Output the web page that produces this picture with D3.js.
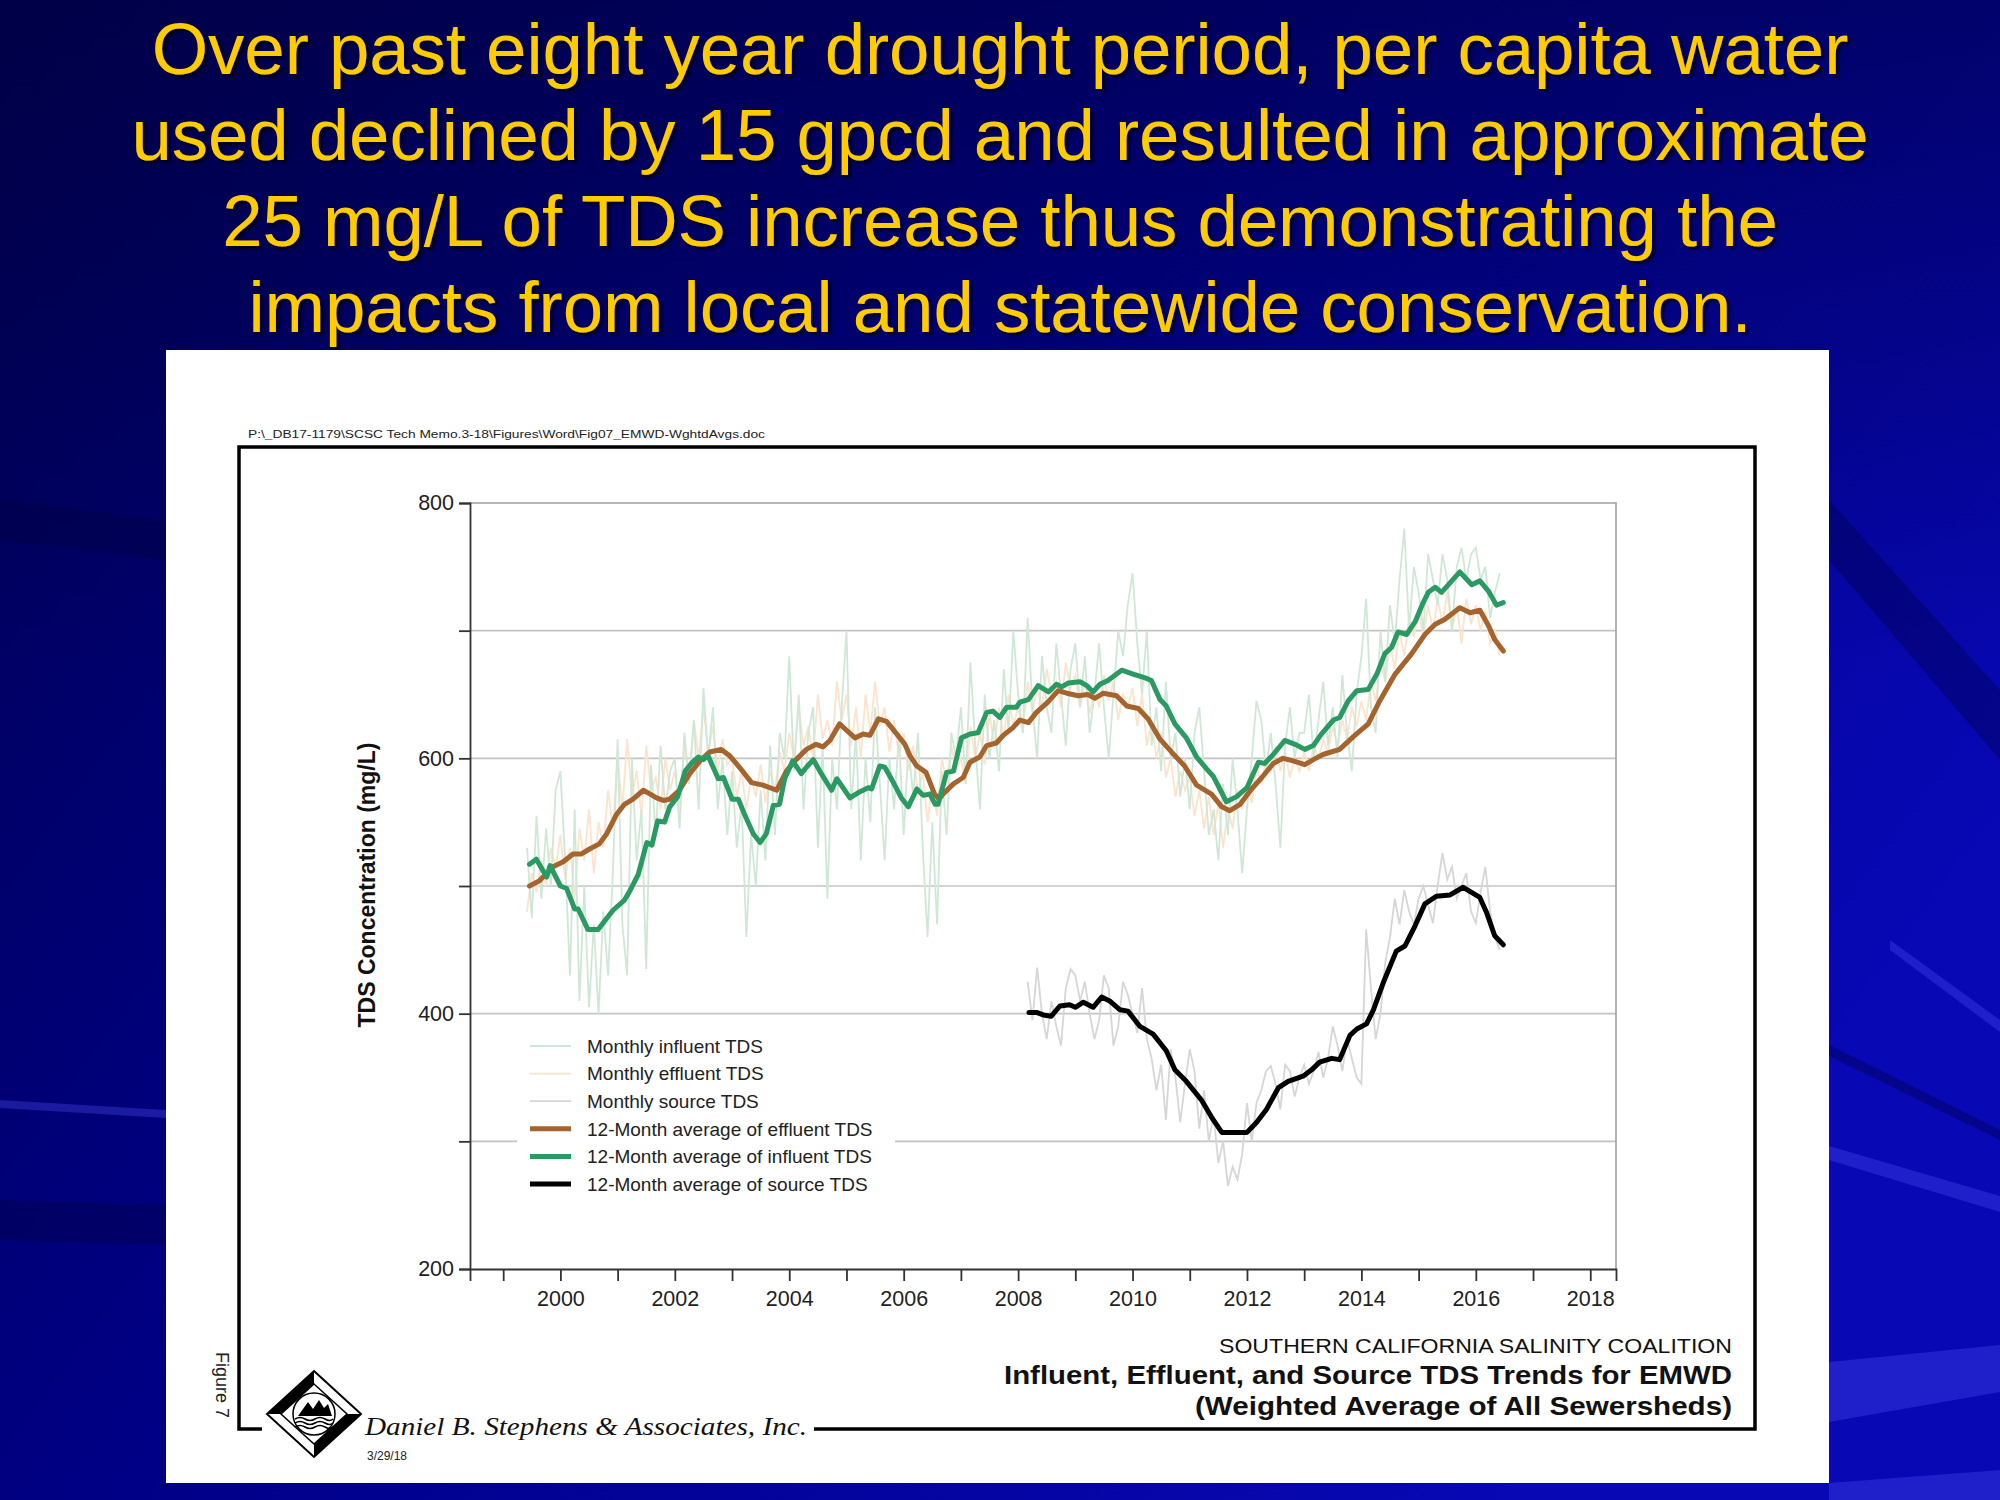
<!DOCTYPE html>
<meta charset="utf-8">
<style>
body { margin: 0; background: #00006a; }
svg { display: block; font-family: "Liberation Sans", Arial, sans-serif; }
.title { fill: #ffcc00; font-size: 72.5px; text-anchor: middle; }
.grid { stroke: #c4c4c4; stroke-width: 1.6; }
.border { stroke: #a0a0a0; stroke-width: 1.6; fill: none; }
.axis-line { stroke: #333; stroke-width: 1.8; }
.tick-label { font-size: 21.5px; fill: #222; }
.legend-label { font-size: 19px; fill: #222; }
.caption { fill: #111; text-anchor: end; }
</style>
<body>
<script src="https://d3js.org/d3.v7.min.js"></script>
<script>

var width = 2000, height = 1500;

// ---- data ----
var titleLines = [
  "Over past eight year drought period, per capita water",
  "used declined by 15 gpcd and resulted in approximate",
  "25 mg/L of TDS increase thus demonstrating the",
  "impacts from local and statewide conservation."
];

var yearTicks = d3.range(1999, 2019);
var yearLabels = d3.range(2000, 2019, 2);
var valueTicks = d3.range(200, 801, 100);
var valueLabels = [200, 400, 600, 800];
var gridValues = [300, 400, 500, 600, 700];

// monthly series, first value is June 1999
var monthlyStart = 1999 + 5 / 12;
var monthlyInfluent = [
  530, 475, 555, 490, 545, 500, 575,
  590, 520, 430, 560, 410, 500, 405, 470, 400, 480, 430, 510,
  615, 470, 430, 600, 520, 560, 435, 595, 540, 610, 560, 590,
  600, 545, 620, 580, 630, 560, 655, 600, 640, 560, 600, 540,
  590, 530, 565, 460, 540, 500, 575, 520, 610, 540, 620, 600,
  680, 590, 650, 560, 620, 640, 530, 610, 490, 600, 560, 640,
  700, 560, 620, 520, 600, 550, 640, 580, 520, 600, 560, 620,
  540, 610, 570, 620, 530, 460, 550, 470, 590, 540, 620, 600,
  640, 580, 675, 610, 560, 650, 600, 630, 590, 670, 620, 700,
  650, 620, 710, 640, 600, 680, 640, 620, 690, 650, 610, 670,
  690, 640, 680, 620, 650, 690, 640, 600, 650, 700, 680, 720,
  745, 690, 650, 700, 610, 640, 590, 660, 600, 620, 570, 600,
  560, 620, 640, 590, 540, 560, 520, 580, 540, 600, 560, 510,
  560, 600, 645, 630, 590, 620, 580, 530, 610, 640, 600, 620,
  620, 650, 600, 630, 660, 610, 640, 600, 665, 620, 590, 650,
  680, 725, 640, 620, 700, 660, 720, 690, 740, 780, 700, 750,
  730, 700, 760, 740, 720, 760, 740, 700, 750, 765, 740, 760,
  765, 740, 750, 710, 730, 745
];
var monthlyEffluent = [
  480, 510, 495, 520, 500, 530, 515,
  540, 505, 530, 490, 545, 520, 560, 510, 550, 530, 575, 545,
  600, 560, 615, 570, 590, 555, 610, 575, 585, 560, 600, 575,
  590, 560, 610, 585, 630, 600, 640, 605, 625, 590, 615, 595,
  600, 570, 590, 560, 585, 570, 595, 565, 590, 575, 605, 590,
  620, 600, 640, 610, 625, 600, 650, 615, 630, 610, 660, 630,
  650, 610, 640, 600, 650, 620, 660, 625, 640, 605, 630, 600,
  620, 590, 610, 570, 590, 550, 580, 555, 600, 580, 610, 590,
  600, 580, 625, 600, 620, 595, 635, 610, 640, 615, 650, 625,
  640, 620, 660, 635, 655, 640, 670, 650, 660, 640, 675, 655,
  665, 640, 660, 635, 655, 640, 665, 645, 660, 630, 650, 640,
  655, 625, 650, 610, 630, 600, 620, 585, 600, 570, 590, 575,
  585, 555, 575, 545, 570, 540, 565, 530, 560, 545, 575, 560,
  580, 565, 595, 580, 600, 590, 610, 590, 605, 585, 600, 590,
  605, 590, 610, 600, 615, 605, 625, 610, 630, 615, 640, 625,
  645, 630, 660, 645, 675, 660, 690, 670, 700, 680, 710, 695,
  715, 695, 720, 700, 725, 705, 730, 700, 720, 690, 725, 705,
  720, 700, 715, 690, 700, 680
];
// monthly source, first value is March 2008
var sourceStart = 2008 + 2 / 12;
var monthlySource = [
  425, 395, 436, 400, 380, 410, 390, 375, 420, 435,
  430, 410, 425, 400, 380, 395, 430, 420, 375, 390, 425, 415,
  400, 385, 420, 380, 365, 340, 360, 317, 372, 350, 315, 345,
  372, 355, 310, 340, 300, 320, 283, 300, 265, 280, 270, 290,
  330, 300, 330, 340, 355, 359, 345, 325, 360, 355, 335, 350,
  360, 345, 355, 370, 350, 365, 390, 375, 355, 380, 365, 350,
  345, 466, 420, 380, 400, 440, 460, 490, 470, 497, 480, 470,
  490, 500, 485, 471, 500, 526, 505, 515, 490, 500, 510, 480,
  471, 495, 515, 480, 460, 450
];

// 12-month running averages, [decimal year, mg/L]
var avgEffluent = [
  [1999.46, 500], [1999.63, 504], [1999.87, 515], [2000.05, 519], [2000.22, 525], [2000.36, 525],
  [2000.51, 529], [2000.68, 533], [2000.81, 541], [2000.98, 556], [2001.12, 564], [2001.27, 568],
  [2001.45, 575], [2001.57, 572], [2001.68, 569], [2001.8, 567], [2001.91, 568], [2002.08, 575],
  [2002.26, 588], [2002.44, 598], [2002.61, 605], [2002.81, 607], [2002.96, 602], [2003.13, 593],
  [2003.34, 581], [2003.54, 579], [2003.78, 575], [2003.95, 590], [2004.12, 599], [2004.3, 607],
  [2004.47, 611], [2004.59, 609], [2004.71, 614], [2004.88, 627], [2005.0, 622], [2005.15, 616],
  [2005.29, 619], [2005.41, 618], [2005.56, 631], [2005.7, 629], [2005.88, 619], [2006.02, 611],
  [2006.11, 602], [2006.23, 594], [2006.39, 589], [2006.54, 572], [2006.62, 568], [2006.69, 572],
  [2006.87, 580], [2007.04, 585], [2007.16, 597], [2007.33, 601], [2007.45, 610], [2007.62, 612],
  [2007.74, 618], [2007.91, 624], [2008.03, 630], [2008.18, 628], [2008.32, 636], [2008.52, 644],
  [2008.7, 653], [2008.85, 651], [2009.05, 649], [2009.22, 650], [2009.34, 647], [2009.49, 651],
  [2009.72, 649], [2009.9, 641], [2010.1, 639], [2010.27, 631], [2010.48, 615], [2010.68, 605],
  [2010.91, 594], [2011.12, 579], [2011.38, 572], [2011.56, 562], [2011.7, 559], [2011.88, 564],
  [2012.08, 576], [2012.26, 585], [2012.46, 596], [2012.63, 600], [2012.81, 598], [2013.01, 595],
  [2013.16, 599], [2013.33, 603], [2013.62, 607], [2013.86, 617], [2014.12, 627], [2014.32, 645],
  [2014.59, 666], [2014.88, 682], [2015.11, 697], [2015.29, 705], [2015.46, 709], [2015.72, 718],
  [2015.9, 714], [2016.07, 716], [2016.22, 704], [2016.33, 693], [2016.48, 684]
];
var avgInfluent = [
  [1999.46, 517], [1999.58, 521], [1999.76, 507], [1999.82, 516], [2000.0, 500], [2000.11, 498],
  [2000.25, 482], [2000.31, 482], [2000.48, 466], [2000.66, 466], [2000.78, 473], [2000.92, 481],
  [2001.12, 489], [2001.2, 495], [2001.36, 509], [2001.51, 534], [2001.6, 532], [2001.7, 551],
  [2001.82, 550], [2001.91, 562], [2002.05, 570], [2002.18, 590], [2002.29, 596], [2002.41, 601],
  [2002.5, 599], [2002.58, 602], [2002.67, 593], [2002.76, 584], [2002.85, 585], [2003.0, 568],
  [2003.11, 568], [2003.22, 556], [2003.37, 541], [2003.49, 534], [2003.6, 541], [2003.72, 563],
  [2003.83, 564], [2003.92, 584], [2004.06, 598], [2004.21, 588], [2004.3, 593], [2004.42, 599],
  [2004.56, 588], [2004.74, 575], [2004.83, 584], [2004.94, 577], [2005.06, 569], [2005.2, 573],
  [2005.38, 577], [2005.44, 576], [2005.58, 594], [2005.67, 593], [2005.82, 581], [2005.96, 569],
  [2006.08, 562], [2006.23, 576], [2006.34, 571], [2006.46, 572], [2006.55, 564], [2006.6, 564],
  [2006.75, 589], [2006.87, 590], [2007.01, 616], [2007.16, 619], [2007.3, 620], [2007.45, 636],
  [2007.56, 637], [2007.68, 632], [2007.8, 640], [2007.97, 640], [2008.03, 644], [2008.18, 646],
  [2008.35, 657], [2008.53, 652], [2008.67, 658], [2008.76, 656], [2008.88, 659], [2009.08, 660],
  [2009.2, 657], [2009.31, 652], [2009.43, 658], [2009.57, 661], [2009.81, 669], [2010.01, 666],
  [2010.22, 663], [2010.33, 661], [2010.48, 646], [2010.59, 641], [2010.74, 627], [2010.94, 616],
  [2011.12, 601], [2011.29, 592], [2011.41, 586], [2011.64, 566], [2011.82, 570], [2012.0, 577],
  [2012.2, 597], [2012.31, 596], [2012.46, 603], [2012.66, 614], [2012.84, 611], [2013.01, 607],
  [2013.16, 610], [2013.3, 619], [2013.51, 630], [2013.62, 632], [2013.77, 645], [2013.92, 653],
  [2014.12, 654], [2014.27, 666], [2014.41, 682], [2014.53, 687], [2014.64, 699], [2014.79, 697],
  [2014.94, 707], [2015.08, 722], [2015.17, 730], [2015.29, 734], [2015.4, 730], [2015.58, 739],
  [2015.72, 746], [2015.93, 736], [2016.07, 739], [2016.22, 731], [2016.36, 720], [2016.48, 722]
];
var avgSource = [
  [2008.19, 401], [2008.32, 401], [2008.44, 399], [2008.58, 398], [2008.73, 406], [2008.9, 407],
  [2009.0, 405], [2009.14, 409], [2009.31, 405], [2009.46, 413], [2009.6, 410], [2009.78, 403],
  [2009.92, 402], [2010.13, 390], [2010.36, 384], [2010.59, 371], [2010.74, 356], [2010.94, 347],
  [2011.21, 332], [2011.38, 319], [2011.56, 307], [2011.76, 307], [2012.0, 307], [2012.17, 315],
  [2012.34, 325], [2012.55, 342], [2012.72, 347], [2012.98, 351], [2013.13, 356], [2013.27, 362],
  [2013.48, 365], [2013.62, 364], [2013.8, 383], [2013.92, 388], [2014.09, 392], [2014.21, 403],
  [2014.38, 424], [2014.61, 449], [2014.76, 453], [2014.94, 469], [2015.11, 486], [2015.31, 492],
  [2015.55, 493], [2015.78, 499], [2016.07, 491], [2016.19, 479], [2016.33, 461], [2016.48, 454]
];

var legendLabels = [
  "Monthly influent TDS",
  "Monthly effluent TDS",
  "Monthly source TDS",
  "12-Month average of effluent TDS",
  "12-Month average of influent TDS",
  "12-Month average of source TDS"
];

// ---- styles ----
var colors = {
  influentMonthly: "#cfe8d6",
  effluentMonthly: "#fbe3cc",
  sourceMonthly: "#d6d6d6",
  effluentAvg: "#a5632e",
  influentAvg: "#2a9a62",
  sourceAvg: "#000"
};
var legendStyles = [
  {color: colors.influentMonthly, w: 1.8},
  {color: colors.effluentMonthly, w: 1.8},
  {color: colors.sourceMonthly, w: 1.8},
  {color: colors.effluentAvg, w: 5},
  {color: colors.influentAvg, w: 5},
  {color: colors.sourceAvg, w: 5}
];

var plot = {left: 470, right: 1616, top: 503, bottom: 1269};

var x = d3.scaleLinear().domain([1998.42, 2018.45]).range([plot.left, plot.right]);
var y = d3.scaleLinear().domain([200, 800]).range([plot.bottom, plot.top]);

var svg = d3.select("body").append("svg")
  .attr("width", width)
  .attr("height", height);

// ---- slide background ----
var defs = svg.append("defs");
var bg = defs.append("linearGradient").attr("id", "bg")
  .attr("x1", 0).attr("y1", 0).attr("x2", 1).attr("y2", 0.55);
bg.append("stop").attr("offset", "0%").attr("stop-color", "#000050");
bg.append("stop").attr("offset", "50%").attr("stop-color", "#00008a");
bg.append("stop").attr("offset", "100%").attr("stop-color", "#0808b4");
var topShade = defs.append("linearGradient").attr("id", "topShade")
  .attr("x1", 0).attr("y1", 0).attr("x2", 0).attr("y2", 1);
topShade.append("stop").attr("offset", "0%").attr("stop-color", "#000040").attr("stop-opacity", 0.55);
topShade.append("stop").attr("offset", "45%").attr("stop-color", "#000040").attr("stop-opacity", 0);
var shadow = defs.append("filter").attr("id", "shadow");
shadow.append("feDropShadow").attr("dx", 3).attr("dy", 3).attr("stdDeviation", 1.5)
  .attr("flood-color", "#000").attr("flood-opacity", 0.7);

svg.append("rect").attr("width", width).attr("height", height).attr("fill", "url(#bg)");
svg.append("rect").attr("width", width).attr("height", height).attr("fill", "url(#topShade)");

// faint streaks of the slide theme
var lightStreaks = [
  "M1890,940 L2000,1020 L2000,1032 L1890,950 Z",
  "M1829,1146 L2000,1196 L2000,1212 L1829,1160 Z",
  "M1829,1362 L2000,1345 L2000,1392 L1829,1422 Z",
  "M1829,1483 L2000,1470 L2000,1500 L1829,1500 Z",
  "M0,1100 L166,1110 L166,1118 L0,1108 Z"
];
var darkStreaks = [
  "M1829,500 L2000,690 L2000,760 L1829,560 Z",
  "M1829,1045 L2000,1130 L2000,1140 L1829,1056 Z",
  "M0,1200 L166,1205 L166,1245 L0,1240 Z",
  "M0,500 L166,520 L166,560 L0,540 Z"
];
svg.selectAll(".streak-light").data(lightStreaks).enter().append("path")
  .attr("d", function(d) { return d; })
  .attr("fill", "#5a5aff")
  .attr("opacity", 0.3);
svg.selectAll(".streak-dark").data(darkStreaks).enter().append("path")
  .attr("d", function(d) { return d; })
  .attr("fill", "#000040")
  .attr("opacity", 0.35);

// ---- title ----
svg.selectAll(".title").data(titleLines).enter().append("text")
  .attr("class", "title")
  .attr("x", 1000)
  .attr("y", function(d, i) { return 74 + i * 86; })
  .attr("filter", "url(#shadow)")
  .text(function(d) { return d; });

// ---- white figure panel and frame ----
svg.append("rect").attr("x", 166).attr("y", 350).attr("width", 1663).attr("height", 1133).attr("fill", "#fff");

svg.append("text").attr("x", 248).attr("y", 438)
  .attr("font-size", 11).attr("fill", "#222")
  .attr("textLength", 517).attr("lengthAdjust", "spacingAndGlyphs")
  .text("P:\\_DB17-1179\\SCSC Tech Memo.3-18\\Figures\\Word\\Fig07_EMWD-WghtdAvgs.doc");

var frame = svg.append("g").attr("fill", "none").attr("stroke", "#000").attr("stroke-width", 3.5);
frame.append("path").attr("d", "M262,1429 L239,1429 L239,447 L1755,447 L1755,1429 L814,1429");

// ---- chart ----
var chart = svg.append("g");

chart.selectAll(".grid").data(gridValues).enter().append("line")
  .attr("class", "grid")
  .attr("x1", plot.left).attr("x2", plot.right)
  .attr("y1", function(d) { return y(d); })
  .attr("y2", function(d) { return y(d); });

chart.append("path").attr("class", "border")
  .attr("d", "M" + plot.left + "," + plot.top + "H" + plot.right + "V" + plot.bottom);

var monthlyLine = function(start) {
  return d3.line()
    .x(function(d, i) { return x(start + i / 12); })
    .y(function(d) { return y(d); });
};
var avgLine = d3.line()
  .x(function(d) { return x(d[0]); })
  .y(function(d) { return y(d[1]); });

chart.append("path").datum(monthlySource)
  .attr("d", monthlyLine(sourceStart))
  .attr("fill", "none").attr("stroke", colors.sourceMonthly).attr("stroke-width", 1.8);
chart.append("path").datum(monthlyEffluent)
  .attr("d", monthlyLine(monthlyStart))
  .attr("fill", "none").attr("stroke", colors.effluentMonthly).attr("stroke-width", 1.8);
chart.append("path").datum(monthlyInfluent)
  .attr("d", monthlyLine(monthlyStart))
  .attr("fill", "none").attr("stroke", colors.influentMonthly).attr("stroke-width", 1.8);

chart.append("path").datum(avgEffluent)
  .attr("d", avgLine)
  .attr("fill", "none").attr("stroke", colors.effluentAvg).attr("stroke-width", 5)
  .attr("stroke-linejoin", "round").attr("stroke-linecap", "round");
chart.append("path").datum(avgInfluent)
  .attr("d", avgLine)
  .attr("fill", "none").attr("stroke", colors.influentAvg).attr("stroke-width", 5)
  .attr("stroke-linejoin", "round").attr("stroke-linecap", "round");
chart.append("path").datum(avgSource)
  .attr("d", avgLine)
  .attr("fill", "none").attr("stroke", colors.sourceAvg).attr("stroke-width", 5)
  .attr("stroke-linejoin", "round").attr("stroke-linecap", "round");

// axes
var yAxis = d3.axisLeft(y).tickValues(valueTicks).tickSize(11)
  .tickFormat(function(d) { return valueLabels.indexOf(d) >= 0 ? d : ""; });
var gy = chart.append("g").attr("transform", "translate(" + plot.left + ",0)").call(yAxis);

var xAxis = d3.axisBottom(x).tickValues(yearTicks).tickSize(12).tickPadding(10)
  .tickFormat(function(d) { return yearLabels.indexOf(d) >= 0 ? d : ""; });
var gx = chart.append("g").attr("transform", "translate(0," + plot.bottom + ")").call(xAxis);

[gx, gy].forEach(function(g) {
  g.select(".domain").attr("class", "axis-line").attr("fill", "none");
  g.selectAll(".tick line").attr("stroke", "#333").attr("stroke-width", 1.8);
  g.selectAll(".tick text").attr("class", "tick-label").attr("font-family", null).attr("font-size", null);
});
gy.selectAll(".tick text").attr("x", -16);

chart.append("text")
  .attr("transform", "translate(375,885) rotate(-90)")
  .attr("text-anchor", "middle")
  .attr("font-size", 23).attr("font-weight", "bold").attr("fill", "#111")
  .text("TDS Concentration (mg/L)");

// legend
var legend = chart.append("g");
legend.append("rect").attr("x", 517).attr("y", 1016).attr("width", 378).attr("height", 196).attr("fill", "#fff");
var rows = legend.selectAll(".row").data(legendLabels).enter().append("g")
  .attr("transform", function(d, i) { return "translate(530," + (1046 + i * 27.6) + ")"; });
rows.append("line")
  .attr("x1", 0).attr("x2", 41)
  .attr("stroke", function(d, i) { return legendStyles[i].color; })
  .attr("stroke-width", function(d, i) { return legendStyles[i].w; });
rows.append("text").attr("class", "legend-label")
  .attr("x", 57).attr("dy", "0.36em")
  .text(function(d) { return d; });

// ---- captions ----
svg.append("text").attr("class", "caption")
  .attr("x", 1732).attr("y", 1353).attr("font-size", 21).attr("fill", "#333")
  .attr("textLength", 513).attr("lengthAdjust", "spacingAndGlyphs")
  .text("SOUTHERN CALIFORNIA SALINITY COALITION");
svg.append("text").attr("class", "caption")
  .attr("x", 1732).attr("y", 1384).attr("font-size", 25).attr("font-weight", "bold")
  .attr("textLength", 728).attr("lengthAdjust", "spacingAndGlyphs")
  .text("Influent, Effluent, and Source TDS Trends for EMWD");
svg.append("text").attr("class", "caption")
  .attr("x", 1732).attr("y", 1415).attr("font-size", 25).attr("font-weight", "bold")
  .attr("textLength", 537).attr("lengthAdjust", "spacingAndGlyphs")
  .text("(Weighted Average of All Sewersheds)");

svg.append("text")
  .attr("transform", "translate(216,1352) rotate(90)")
  .attr("font-size", 18).attr("fill", "#222")
  .text("Figure 7");

// company logo
var logo = svg.append("g").attr("transform", "translate(314,1414)");
logo.append("path").attr("d", "M0,-43 L47,0 L0,43 L-47,0 Z").attr("fill", "#fff").attr("stroke", "#000").attr("stroke-width", 2);
logo.append("path").attr("d", "M-47,0 L0,-43 L0,-30 L-33,0 Z").attr("fill", "#000");
logo.append("path").attr("d", "M47,0 L0,43 L0,30 L33,0 Z").attr("fill", "#000");
logo.append("path").attr("d", "M0,-30 L33,0 L0,30 L-33,0 Z").attr("fill", "none").attr("stroke", "#000").attr("stroke-width", 1.5);
logo.append("circle").attr("r", 21).attr("fill", "#fff").attr("stroke", "#000").attr("stroke-width", 1.5);
logo.append("path").attr("d", "M-16,2 L-6,-12 L-1,-5 L5,-14 L10,-6 L14,-10 L18,2 Z").attr("fill", "#000");
[5, 9, 13].forEach(function(dy) {
  logo.append("path")
    .attr("d", "M-19," + dy + " q5,-3 10,0 t10,0 t10,0 t8,0")
    .attr("fill", "none").attr("stroke", "#000").attr("stroke-width", 1.6);
});

svg.append("text").attr("x", 365).attr("y", 1435)
  .attr("font-family", "'Liberation Serif', 'Times New Roman', serif")
  .attr("font-style", "italic").attr("font-size", 26).attr("fill", "#111")
  .attr("textLength", 442).attr("lengthAdjust", "spacingAndGlyphs")
  .text("Daniel B. Stephens & Associates, Inc.");
svg.append("text").attr("x", 367).attr("y", 1460)
  .attr("font-size", 12).attr("fill", "#222")
  .text("3/29/18");

</script>
